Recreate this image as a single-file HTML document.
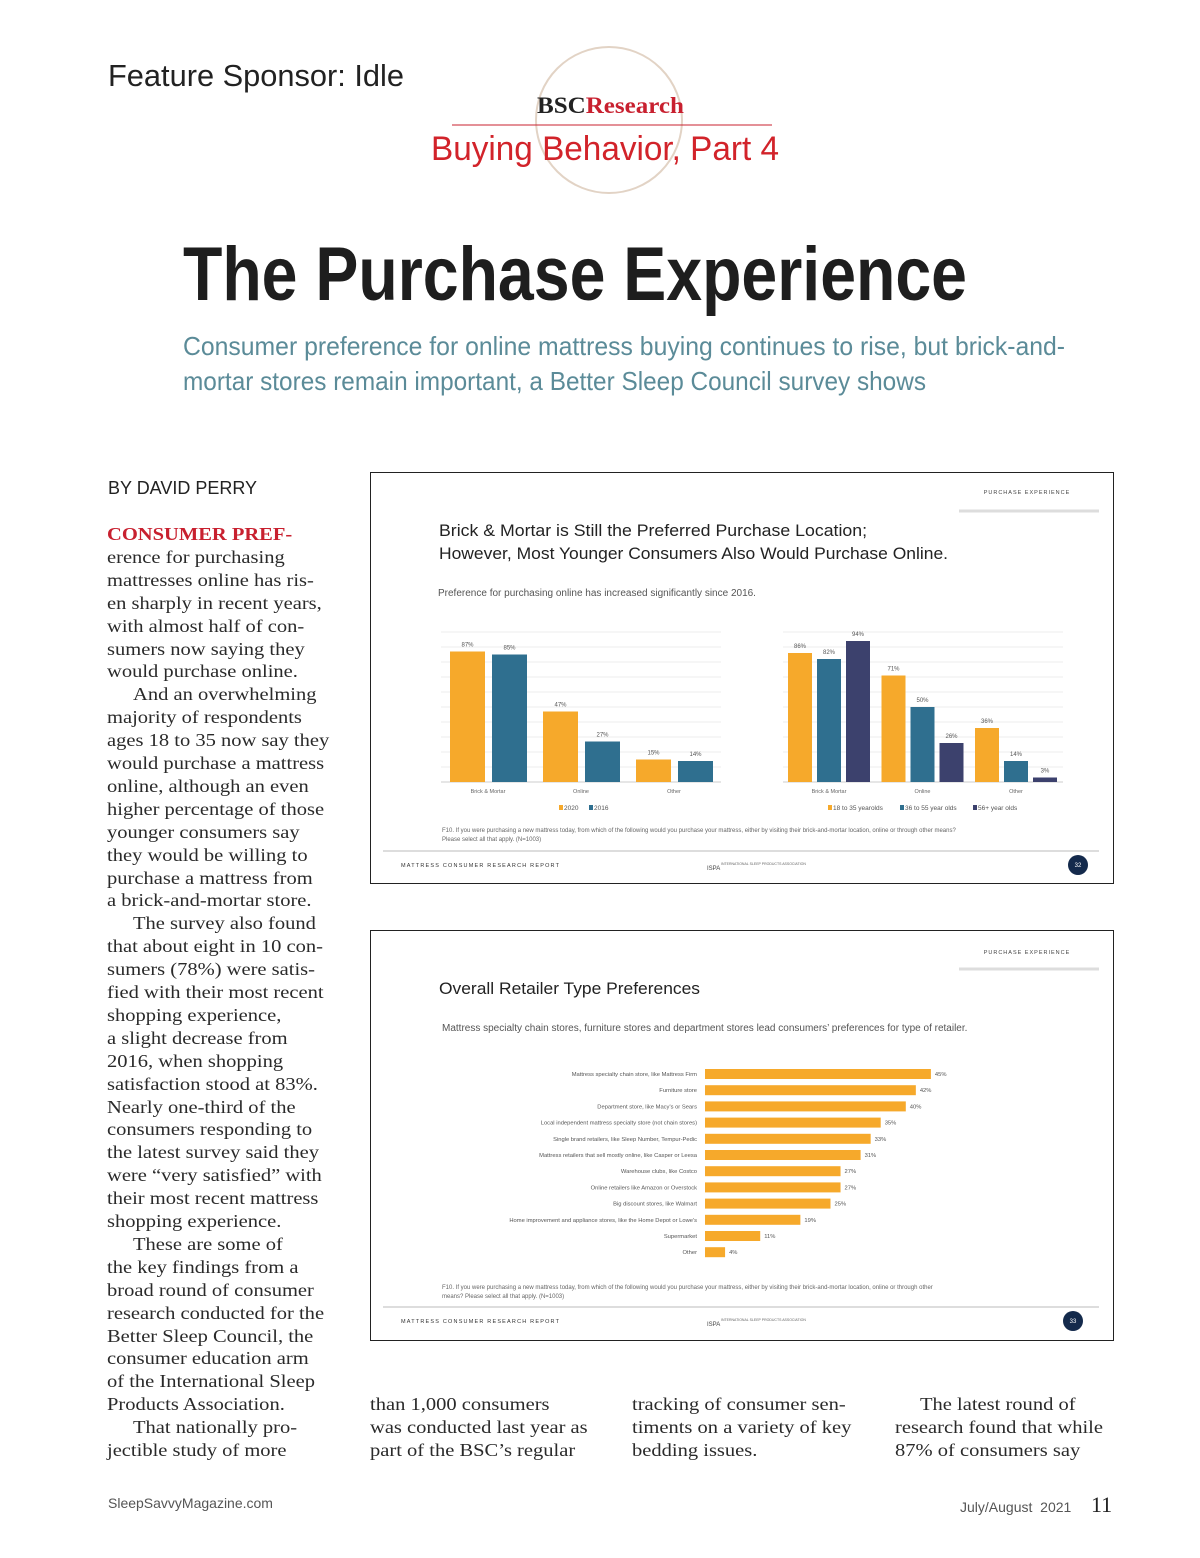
<!DOCTYPE html>
<html><head><meta charset="utf-8">
<style>
body{margin:0;background:#fff;}
#page{position:relative;width:1200px;height:1558px;overflow:hidden;background:#fff;font-family:"Liberation Sans",sans-serif;}
.abs{position:absolute;}
.body-line{position:absolute;font-family:"Liberation Serif",serif;font-size:18px;color:#2a2a2a;white-space:nowrap;line-height:20px;transform:scaleX(1.14);transform-origin:0 0;}
.box{position:absolute;border:1px solid #222;background:#fff;}
</style></head>
<body>
<div id="page">

<svg class="abs" style="left:0;top:0" width="1200" height="420">
  <text x="108" y="86" font-family="Liberation Sans, sans-serif" font-size="31" fill="#222" textLength="296" lengthAdjust="spacingAndGlyphs">Feature Sponsor: Idle</text>
  <circle cx="609" cy="120" r="73" fill="none" stroke="#e2d3c5" stroke-width="2"/>
  <text x="537" y="113" font-family="Liberation Serif, serif" font-weight="bold" font-size="23" textLength="147" lengthAdjust="spacingAndGlyphs"><tspan fill="#222">BSC</tspan><tspan fill="#c8202f">Research</tspan></text>
  <line x1="452" y1="125" x2="772" y2="125" stroke="#c8202f" stroke-width="1"/>
  <text x="431" y="160" font-family="Liberation Sans, sans-serif" font-size="34" fill="#d2232a" textLength="348" lengthAdjust="spacingAndGlyphs">Buying Behavior, Part 4</text>
  <text x="183" y="300" font-family="Liberation Sans, sans-serif" font-weight="bold" font-size="76" fill="#1e1e1e" textLength="784" lengthAdjust="spacingAndGlyphs">The Purchase Experience</text>
  <text x="183" y="355" font-family="Liberation Sans, sans-serif" font-size="26" fill="#5b8b98" textLength="882" lengthAdjust="spacingAndGlyphs">Consumer preference for online mattress buying continues to rise, but brick-and-</text>
  <text x="183" y="390" font-family="Liberation Sans, sans-serif" font-size="26" fill="#5b8b98" textLength="743" lengthAdjust="spacingAndGlyphs">mortar stores remain important, a Better Sleep Council survey shows</text>
</svg>

<div class="abs" style="left:108px;top:478px;font-size:18px;color:#222;">BY DAVID PERRY</div>

<div id="col1"></div>

<div class="body-line" style="left:370px;top:1394px">than 1,000 consumers</div>
<div class="body-line" style="left:370px;top:1417px">was conducted last year as</div>
<div class="body-line" style="left:370px;top:1440px">part of the BSC’s regular</div>
<div class="body-line" style="left:632px;top:1394px">tracking of consumer sen-</div>
<div class="body-line" style="left:632px;top:1417px">timents on a variety of key</div>
<div class="body-line" style="left:632px;top:1440px">bedding issues.</div>
<div class="body-line" style="left:920px;top:1394px">The latest round of</div>
<div class="body-line" style="left:895px;top:1417px">research found that while</div>
<div class="body-line" style="left:895px;top:1440px">87% of consumers say</div>

<div class="abs" style="left:108px;top:1495px;font-size:14px;color:#555;">SleepSavvyMagazine.com</div>
<div class="abs" style="left:960px;top:1499px;font-size:14px;color:#555;">July/August&nbsp; 2021</div>
<div class="abs" style="left:1091px;top:1492px;font-size:22px;color:#222;font-family:'Liberation Serif',serif;">11</div>

<div class="box" style="left:370px;top:472px;width:742px;height:410px">
<svg id="chart1" width="742" height="410"></svg>
</div>

<div class="box" style="left:370px;top:930px;width:742px;height:409px">
<svg id="chart2" width="742" height="409"></svg>
</div>

</div>
<script>
var c1Categories = ["Brick & Mortar", "Online", "Other"];
var c1Values2020 = [87, 47, 15];
var c1Values2016 = [85, 27, 14];
var c1Legend = ["2020", "2016"];
var c2Categories = ["Brick & Mortar", "Online", "Other"];
var c2Age18to35 = [86, 71, 36];
var c2Age36to55 = [82, 50, 14];
var c2Age56plus = [94, 26, 3];
var c2Legend = ["18 to 35 yearolds", "36 to 55 year olds", "56+ year olds"];
var retailerLabels = ["Mattress specialty chain store, like Mattress Firm","Furniture store","Department store, like Macy's or Sears","Local independent mattress specialty store (not chain stores)","Single brand retailers, like Sleep Number, Tempur-Pedic","Mattress retailers that sell mostly online, like Casper or Leesa","Warehouse clubs, like Costco","Online retailers like Amazon or Overstock","Big discount stores, like Walmart","Home improvement and appliance stores, like the Home Depot or Lowe's","Supermarket","Other"];
var retailerValues = [45, 42, 40, 35, 33, 31, 27, 27, 25, 19, 11, 4];

var NS = "http://www.w3.org/2000/svg";
var ORANGE = "#f6a92b", TEAL = "#2f6f8f", NAVY = "#3c416d";
function mk(parent, tag, attrs, text) {
  var e = document.createElementNS(NS, tag);
  for (var k in attrs) e.setAttribute(k, attrs[k]);
  if (text !== undefined) e.textContent = text;
  parent.appendChild(e);
  return e;
}

var s1 = document.getElementById('chart1');
function slideChrome(s, title1, title2, sub, foot1, foot2, tabY, footY, pg, tl1, tl2) {
  var t = mk(s, 'rect', {x: 588, y: 0, width: 140, height: 38, fill: '#fff'});
  
  
  var tl = mk(s, 'line', {x1: 588, y1: 38, x2: 728, y2: 38, stroke: '#ddd', 'stroke-width': 3});
  
  
  var tt = mk(s, 'text', {x: 656, y: tabY, 'font-size': 5.5, fill: '#444', 'text-anchor': 'middle', 'letter-spacing': 1}, 'PURCHASE EXPERIENCE');
  
  
  var h1 = mk(s, 'text', {x: 68, y: 63, 'font-size': 17, fill: '#222', textLength: tl1, lengthAdjust: 'spacingAndGlyphs'}, title1);
  
  
  if (title2) {
    var h2 = mk(s, 'text', {x: 68, y: 86, 'font-size': 17, fill: '#222', textLength: tl2, lengthAdjust: 'spacingAndGlyphs'}, title2);
    
    
  }
  var st = mk(s, 'text', {x: sub[1], y: sub[2], 'font-size': 10, fill: '#555'}, sub[0]);
  
  
  var f1 = mk(s, 'text', {x: 71, y: foot1[1], 'font-size': 6, fill: '#666'}, foot1[0]);
  
  
  var f2 = mk(s, 'text', {x: 71, y: foot2[1], 'font-size': 6, fill: '#666'}, foot2[0]);
  
  
  var fl = mk(s, 'line', {x1: 12, y1: footY - 14, x2: 728, y2: footY - 14, stroke: '#ddd', 'stroke-width': 2});
  
  
  var ft = mk(s, 'text', {x: 30, y: footY + 2, 'font-size': 5.5, fill: '#333', 'letter-spacing': 1.2}, 'MATTRESS CONSUMER RESEARCH REPORT');
  
  
  var lg = mk(s, 'text', {x: 336, y: footY + 5, 'font-size': 6, fill: '#444'}, 'ISPA');
  
  
  var lg2 = mk(s, 'text', {x: 350, y: footY, 'font-size': 3.5, fill: '#666'}, 'INTERNATIONAL SLEEP PRODUCTS ASSOCIATION');
  
  
  var pc = mk(s, 'circle', {cx: pg[0], cy: footY, r: 10, fill: '#142a4c'});
  
  
  var pt = mk(s, 'text', {x: pg[0], y: footY + 2, 'font-size': 6, fill: '#fff', 'text-anchor': 'middle'}, pg[1]);
  
  
}
slideChrome(s1, 'Brick & Mortar is Still the Preferred Purchase Location;', 'However, Most Younger Consumers Also Would Purchase Online.',
  ['Preference for purchasing online has increased significantly since 2016.', 67, 123],
  ['F10. If you were purchasing a new mattress today, from which of the following would you purchase your mattress, either by visiting their brick-and-mortar location, online or through other means?', 359],
  ['Please select all that apply. (N=1003)', 368], 21, 392, [707, '32'], 428, 509);

var base1 = 309, pxPer = 1.5;
function y1(v) { return base1 - v * pxPer; }
[0, 10, 20, 30, 40, 50, 60, 70, 80, 90, 100].forEach(function (g) {
  var a = mk(s1, 'line', {x1: 70, y1: y1(g), x2: 350, y2: y1(g), stroke: g === 0 ? '#ccc' : '#eee', 'stroke-width': 1});
  
  
  var b = mk(s1, 'line', {x1: 412, y1: y1(g), x2: 692, y2: y1(g), stroke: g === 0 ? '#ccc' : '#eee', 'stroke-width': 1});
  
  
});
function bar(s, x, w, v, col, name) {
  var r = mk(s, 'rect', {x: x, y: y1(v), width: w, height: v * pxPer, fill: col});
  
  
  var t = mk(s, 'text', {x: x + w / 2, y: y1(v) - 5, 'font-size': 6, fill: '#555', 'text-anchor': 'middle'}, v + '%');
  
  
}
c1Categories.forEach(function (c, i) {
  var gx = 79 + i * 93;
  bar(s1, gx, 35, c1Values2020[i], ORANGE, 'bar-2020');
  bar(s1, gx + 42, 35, c1Values2016[i], TEAL, 'bar-2016');
  var t = mk(s1, 'text', {x: gx + 38, y: 320, 'font-size': 5.5, fill: '#666', 'text-anchor': 'middle'}, c);
  
  
});
c2Categories.forEach(function (c, i) {
  var gx = 417 + i * 93.5;
  bar(s1, gx, 24, c2Age18to35[i], ORANGE, 'bar-18-35');
  bar(s1, gx + 29, 24, c2Age36to55[i], TEAL, 'bar-36-55');
  bar(s1, gx + 58, 24, c2Age56plus[i], NAVY, 'bar-56-plus');
  var t = mk(s1, 'text', {x: gx + 41, y: 320, 'font-size': 5.5, fill: '#666', 'text-anchor': 'middle'}, c);
  
  
});
function legend(s, x, y, col, label) {
  var r = mk(s, 'rect', {x: x, y: y - 5, width: 4, height: 5, fill: col});
  
  
  var t = mk(s, 'text', {x: x + 5, y: y, 'font-size': 6.5, fill: '#555'}, label);
  
  
}
legend(s1, 188, 337, ORANGE, c1Legend[0]);
legend(s1, 218, 337, TEAL, c1Legend[1]);
legend(s1, 457, 337, ORANGE, c2Legend[0]);
legend(s1, 529, 337, TEAL, c2Legend[1]);
legend(s1, 602, 337, NAVY, c2Legend[2]);

var s2 = document.getElementById('chart2');
slideChrome(s2, 'Overall Retailer Type Preferences', null,
  ['Mattress specialty chain stores, furniture stores and department stores lead consumers\u2019 preferences for type of retailer.', 71, 100],
  ['F10. If you were purchasing a new mattress today, from which of the following would you purchase your mattress, either by visiting their brick-and-mortar location, online or through other', 358],
  ['means? Please select all that apply. (N=1003)', 367], 23, 390, [702, '33'], 261, 0);
var x0 = 334, pxPer2 = 5.02;
retailerLabels.forEach(function (lab, i) {
  var cy = 143 + i * 16.2;
  var v = retailerValues[i];
  var r = mk(s2, 'rect', {x: x0, y: cy - 5, width: v * pxPer2, height: 10, fill: ORANGE});
  
  
  var t = mk(s2, 'text', {x: 326, y: cy + 2, 'font-size': 5.8, fill: '#555', 'text-anchor': 'end'}, lab);
  
  
  var vt = mk(s2, 'text', {x: x0 + v * pxPer2 + 4, y: cy + 2, 'font-size': 5.8, fill: '#555'}, v + '%');
  
  
});

var col1Lines = [
 ["CONSUMER PREF-",0,1],["erence for purchasing",0],["mattresses online has ris-",0],["en sharply in recent years,",0],["with almost half of con-",0],["sumers now saying they",0],["would purchase online.",0],
 ["And an overwhelming",26],["majority of respondents",0],["ages 18 to 35 now say they",0],["would purchase a mattress",0],["online, although an even",0],["higher percentage of those",0],["younger consumers say",0],["they would be willing to",0],["purchase a mattress from",0],["a brick-and-mortar store.",0],
 ["The survey also found",26],["that about eight in 10 con-",0],["sumers (78%) were satis-",0],["fied with their most recent",0],["shopping experience,",0],["a slight decrease from",0],["2016, when shopping",0],["satisfaction stood at 83%.",0],["Nearly one-third of the",0],["consumers responding to",0],["the latest survey said they",0],["were \u201cvery satisfied\u201d with",0],["their most recent mattress",0],["shopping experience.",0],
 ["These are some of",26],["the key findings from a",0],["broad round of consumer",0],["research conducted for the",0],["Better Sleep Council, the",0],["consumer education arm",0],["of the International Sleep",0],["Products Association.",0],
 ["That nationally pro-",26],["jectible study of more",0]
];
var col1 = document.getElementById('col1');
col1Lines.forEach(function (l, i) {
  var d = document.createElement('div');
  d.className = 'body-line';
  d.style.left = (107 + l[1]) + 'px';
  d.style.top = (524 + i * 22.9) + 'px';
  if (l[2]) { d.style.color = '#c8202f'; d.style.fontWeight = 'bold'; }
  d.textContent = l[0];
  
  
  col1.appendChild(d);
});
</script>
</body></html>
